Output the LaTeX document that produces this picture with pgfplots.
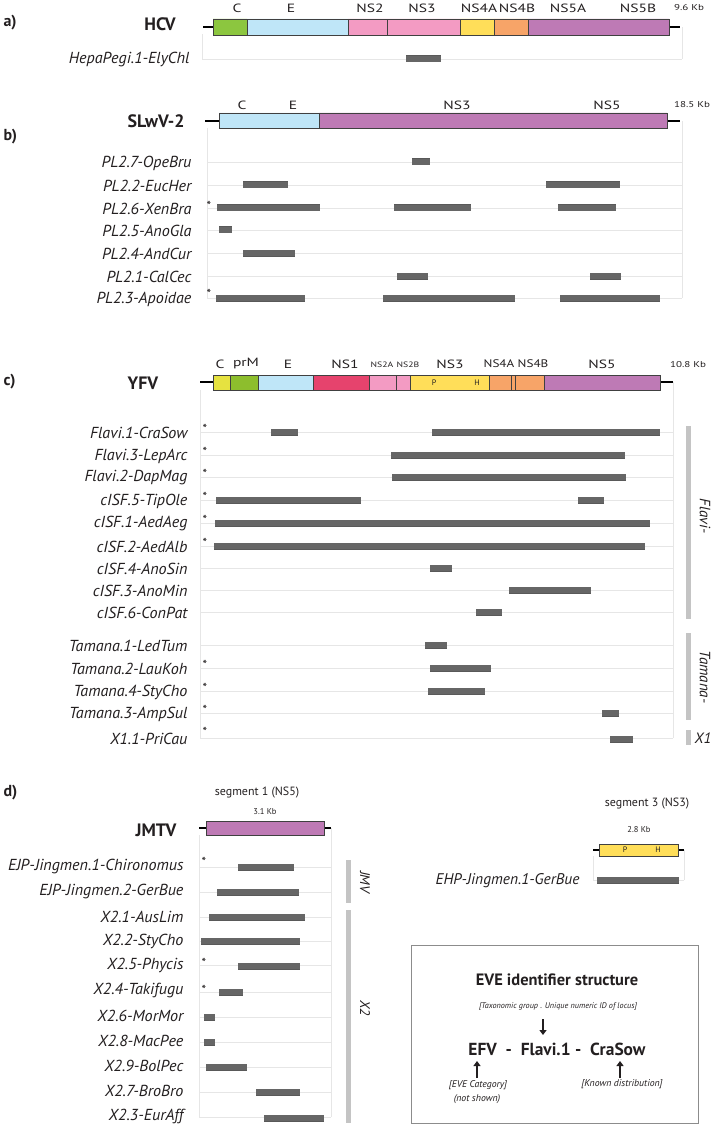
\documentclass[border=0pt]{standalone}
\usepackage{pgfplots}
\pgfplotsset{compat=1.18}
\usepackage{fontspec}
\setmainfont{PT Sans}
\usetikzlibrary{arrows.meta}
\definecolor{cGreen}{HTML}{8CC63F}
\definecolor{cBlue}{HTML}{BFE6F8}
\definecolor{cPink}{HTML}{F39BC3}
\definecolor{cYel}{HTML}{FFDE59}
\definecolor{cOra}{HTML}{F7A468}
\definecolor{cPur}{HTML}{BE7AB5}
\definecolor{cRed}{HTML}{E6436D}
\definecolor{cLime}{HTML}{E6E240}
\definecolor{cPrm}{HTML}{8DBE2D}
\definecolor{barfill}{HTML}{666666}
\definecolor{rowgray}{HTML}{E6E6E6}
\definecolor{brk}{HTML}{C4C4C4}
\definecolor{txt}{HTML}{231F20}
\newcommand{\seg}[5]{\addplot[fill=#5, draw=black!75, line width=0.6bp] coordinates {(#1,#3) (#2,#3) (#2,#4) (#1,#4) (#1,#3)};}
\newcommand{\ebar}[3]{\addplot[draw=black!65, line width=0.5bp, double=barfill, double distance=6bp] coordinates {(#1,#3) (#2,#3)};}
\newcommand{\rowln}[3]{\addplot[draw=rowgray, line width=0.9bp] coordinates {(#1,#3) (#2,#3)};}
\newcommand{\vln}[3]{\addplot[draw=rowgray, line width=0.9bp] coordinates {(#1,#2) (#1,#3)};}
\newcommand{\gline}[3]{\addplot[draw=black, line width=2.6bp] coordinates {(#1,#3) (#2,#3)};}
\newcommand{\grpbar}[3]{\addplot[draw=brk, line width=5bp] coordinates {(#1,#2) (#1,#3)};}
\newcommand{\lab}[3]{\node[anchor=east, xscale=1.01, text=txt, font=\itshape\fontsize{16}{18}\selectfont] at (#1,#2) {#3};}
\newcommand{\astk}[2]{\node[text=txt, font=\fontsize{13}{14}\selectfont] at (#1,#2) {*};}
\newcommand{\slab}[3]{\node[xscale=1.3, text=txt, font=\fontsize{12}{14}\selectfont] at (#1,#2) {#3};}
\newcommand{\mlab}[3]{\node[xscale=1.2, text=txt, font=\fontsize{11}{13}\selectfont] at (#1,#2) {#3};}
\newcommand{\smlab}[3]{\node[xscale=1.3, text=txt, font=\fontsize{8.5}{10}\selectfont] at (#1,#2) {#3};}
\newcommand{\xslab}[3]{\node[xscale=1.25, text=txt, font=\fontsize{7.8}{9}\selectfont] at (#1,#2) {#3};}
\newcommand{\tinylab}[3]{\node[text=txt, font=\fontsize{8.5}{10}\selectfont] at (#1,#2) {#3};}
\newcommand{\panel}[3]{\node[anchor=west, text=txt, font=\bfseries\fontsize{16}{18}\selectfont] at (#1,#2) {#3};}
\newcommand{\vname}[3]{\node[text=txt, font=\bfseries\fontsize{18}{20}\selectfont] at (#1,#2) {#3};}
\begin{document}
\begin{tikzpicture}
\begin{axis}[scale only axis, width=713bp, height=1125bp,
  xmin=0, xmax=713, ymin=0, ymax=1125, y dir=reverse,
  hide axis, clip=false]
% ================= panel a =================
\panel{0}{23}{a)}
\vname{160}{24}{HCV}
\vln{202}{34}{59}\vln{682}{27}{59}
\rowln{202}{682}{59}
\gline{203}{680}{27}
\seg{213}{247}{19}{35}{cGreen}
\seg{247}{348}{19}{35}{cBlue}
\seg{348}{387}{19}{35}{cPink}
\seg{387}{460}{19}{35}{cPink}
\seg{460}{494}{19}{35}{cYel}
\seg{494}{528}{19}{35}{cOra}
\seg{528}{669}{19}{35}{cPur}
\slab{237}{8}{C}\slab{291}{8}{E}\slab{370}{8}{NS2}\slab{422}{8}{NS3}
\slab{479}{8}{NS4A}\slab{517}{8}{NS4B}\slab{568}{8}{NS5A}\slab{638}{8}{NS5B}
\smlab{689}{8}{9.6 Kb}
\lab{193}{60}{HepaPegi.1-ElyChl}
\ebar{406}{441}{59}
% ================= panel b =================
\panel{0}{137}{b)}
\vname{156}{121}{SLwV-2}
\vln{207}{128}{298}\vln{682}{121}{298}
\rowln{207}{682}{162}\rowln{207}{682}{185}\rowln{207}{682}{208}
\rowln{207}{682}{230}\rowln{207}{682}{253}\rowln{207}{682}{276}\rowln{207}{682}{298}
\gline{205}{680}{121}
\seg{219}{319}{113}{128}{cBlue}
\seg{319}{667}{113}{128}{cPur}
\slab{242}{105}{C}\slab{293}{105}{E}\slab{457}{105}{NS3}\slab{607}{105}{NS5}
\smlab{692}{105}{18.5 Kb}
\lab{195}{163}{PL2.7-OpeBru}
\lab{195}{186}{PL2.2-EucHer}
\lab{195}{209}{PL2.6-XenBra}
\lab{195}{231}{PL2.5-AnoGla}
\lab{195}{254}{PL2.4-AndCur}
\lab{195}{277}{PL2.1-CalCec}
\lab{195}{299}{PL2.3-Apoidae}
\astk{209}{206}\astk{209}{294}
\ebar{412}{430}{162}
\ebar{243}{288}{185}\ebar{546}{620}{185}
\ebar{217}{320}{208}\ebar{394}{471}{208}\ebar{558}{616}{208}
\ebar{219}{232}{230}
\ebar{243}{295}{253}
\ebar{397}{428}{276}\ebar{590}{621}{276}
\ebar{216}{305}{298}\ebar{383}{515}{298}\ebar{560}{660}{298}
% ================= panel c =================
\panel{0}{382}{c)}
\vname{143}{383}{YFV}
\vln{200}{390}{738}\vln{673}{382}{738}
\rowln{200}{673}{432}\rowln{200}{673}{455}\rowln{200}{673}{477}
\rowln{200}{673}{500}\rowln{200}{673}{523}\rowln{200}{673}{546}
\rowln{200}{673}{568}\rowln{200}{673}{590}\rowln{200}{673}{612}
\rowln{200}{673}{645}\rowln{200}{673}{668}\rowln{200}{673}{691}
\rowln{200}{673}{713}\rowln{200}{673}{738}
\gline{200}{673}{382}
\seg{213}{230}{375}{390}{cLime}
\seg{230}{258}{375}{390}{cPrm}
\seg{258}{313}{375}{390}{cBlue}
\seg{313}{369}{375}{390}{cRed}
\seg{369}{396}{375}{390}{cPink}
\seg{396}{410}{375}{390}{cPink}
\seg{410}{489}{375}{390}{cYel}
\seg{489}{511}{375}{390}{cOra}
\seg{511}{515}{375}{390}{cOra}
\seg{515}{544}{375}{390}{cOra}
\seg{544}{660}{375}{390}{cPur}
\slab{220}{364}{C}\slab{246}{364}{prM}\slab{288}{364}{E}\slab{345}{364}{NS1}
\xslab{382}{365}{NS2A}\xslab{408}{365}{NS2B}
\slab{450}{364}{NS3}\mlab{499}{364}{NS4A}\mlab{533}{364}{NS4B}\slab{602}{364}{NS5}
\smlab{688}{365}{10.8 Kb}
\node[text=txt, font=\fontsize{8}{9}\selectfont] at (434,383) {P};
\node[text=txt, font=\fontsize{8}{9}\selectfont] at (477,383) {H};
\lab{191}{433}{Flavi.1-CraSow}
\lab{191}{456}{Flavi.3-LepArc}
\lab{191}{478}{Flavi.2-DapMag}
\lab{191}{501}{cISF.5-TipOle}
\lab{191}{524}{cISF.1-AedAeg}
\lab{191}{547}{cISF.2-AedAlb}
\lab{191}{569}{cISF.4-AnoSin}
\lab{191}{591}{cISF.3-AnoMin}
\lab{191}{613}{cISF.6-ConPat}
\lab{191}{646}{Tamana.1-LedTum}
\lab{191}{669}{Tamana.2-LauKoh}
\lab{191}{692}{Tamana.4-StyCho}
\lab{191}{714}{Tamana.3-AmpSul}
\lab{191}{739}{X1.1-PriCau}
\astk{205}{429}\astk{205}{452}\astk{205}{474}\astk{205}{497}\astk{205}{520}\astk{205}{543}
\astk{205}{665}\astk{205}{688}\astk{205}{710}\astk{205}{732}
\ebar{271}{298}{432}\ebar{432}{660}{432}
\ebar{391}{625}{455}
\ebar{392}{626}{477}
\ebar{216}{361}{500}\ebar{578}{604}{500}
\ebar{215}{650}{523}
\ebar{214}{645}{546}
\ebar{430}{452}{568}
\ebar{509}{591}{590}
\ebar{476}{502}{612}
\ebar{425}{447}{645}
\ebar{430}{491}{668}
\ebar{428}{485}{691}
\ebar{602}{619}{713}
\ebar{610}{633}{739}
\grpbar{688.5}{426}{619}
\grpbar{688.5}{633}{720}
\grpbar{688.5}{730}{745}
\node[rotate=-90, text=txt, font=\itshape\fontsize{15}{17}\selectfont] at (705,516) {Flavi-};
\node[rotate=-90, text=txt, font=\itshape\fontsize{15}{17}\selectfont] at (705,677) {Tamana-};
\node[text=txt, font=\itshape\fontsize{15}{17}\selectfont] at (703,738) {X1};
% ================= panel d =================
\panel{0}{793}{d)}
\node[text=txt, font=\fontsize{12}{14}\selectfont] at (257,793) {segment 1 (NS5)};
\tinylab{265}{812}{3.1 Kb}
\vname{156}{830}{JMTV}
\vln{199}{835}{1117}\vln{331}{828}{1117}
\rowln{199}{331}{867}\rowln{199}{331}{892}\rowln{199}{331}{917}\rowln{199}{331}{941}
\rowln{199}{331}{965}\rowln{199}{331}{992}\rowln{199}{331}{1017}\rowln{199}{331}{1042}
\rowln{199}{331}{1067}\rowln{199}{331}{1092}\rowln{199}{331}{1117}
\gline{199}{331}{828}
\seg{206}{324}{821}{835}{cPur}
\lab{187}{867}{EJP-Jingmen.1-Chironomus}
\lab{187}{892}{EJP-Jingmen.2-GerBue}
\lab{187}{917}{X2.1-AusLim}
\lab{187}{941}{X2.2-StyCho}
\lab{187}{965}{X2.5-Phycis}
\lab{187}{991}{X2.4-Takifugu}
\lab{187}{1016}{X2.6-MorMor}
\lab{187}{1041}{X2.8-MacPee}
\lab{187}{1066}{X2.9-BolPec}
\lab{187}{1091}{X2.7-BroBro}
\lab{187}{1116}{X2.3-EurAff}
\astk{204}{862}\astk{204}{963}\astk{204}{990}
\ebar{238}{294}{867}
\ebar{217}{299}{892}
\ebar{209}{305}{917}
\ebar{201}{300}{941}
\ebar{238}{300}{966}
\ebar{219}{243}{992}
\ebar{204}{215}{1017}
\ebar{204}{215}{1042}
\ebar{206}{247}{1067}
\ebar{256}{300}{1092}
\ebar{264}{324}{1118}
\grpbar{348.5}{860}{903}
\grpbar{348.5}{910}{1123}
\node[rotate=-90, text=txt, font=\itshape\fontsize{14}{16}\selectfont] at (365,882) {JMV};
\node[rotate=-90, text=txt, font=\itshape\fontsize{14}{16}\selectfont] at (365,1008) {X2};
% segment 3
\node[text=txt, font=\fontsize{12}{14}\selectfont] at (647,804) {segment 3 (NS3)};
\tinylab{639}{830}{2.8 Kb}
\vln{593}{856}{880}\vln{684}{850}{880}
\rowln{593}{684}{880}
\gline{593}{684}{850}
\seg{599}{678}{844}{856}{cYel}
\node[text=txt, font=\fontsize{8}{9}\selectfont] at (625,850) {P};
\node[text=txt, font=\fontsize{8}{9}\selectfont] at (658,850) {H};
\node[anchor=east, text=txt, font=\itshape\fontsize{15.5}{18}\selectfont] at (583,881) {EHP-Jingmen.1-GerBue};
\ebar{597}{679}{880}
% EVE box
\draw[black!45, line width=0.8bp] (411,945) rectangle (698,1123);
\node[text=txt, font=\bfseries\fontsize{16.5}{18}\selectfont] at (557,980) {EVE identifier structure};
\node[text=txt, font=\itshape\fontsize{8.2}{9}\selectfont] at (558,1007) {[Taxonomic group . Unique numeric ID of locus]};
\draw[txt, line width=2bp, -{Triangle[length=5bp,width=7bp]}] (543,1019) -- (543,1035);
\node[text=txt, font=\bfseries\fontsize{17.5}{19}\selectfont] at (557,1049) {EFV\ \ -\ \ Flavi.1\ -\ \ CraSow};
\draw[txt, line width=2bp, -{Triangle[length=5bp,width=7bp]}] (477,1078) -- (477,1061);
\draw[txt, line width=2bp, -{Triangle[length=5bp,width=7bp]}] (620,1078) -- (620,1061);
\node[text=txt, font=\itshape\fontsize{9.8}{11}\selectfont] at (478,1085) {[EVE Category]};
\node[text=txt, font=\itshape\fontsize{9.8}{11}\selectfont] at (477,1099) {(not shown)};
\node[text=txt, font=\itshape\fontsize{9.8}{11}\selectfont] at (622,1084) {[Known distribution]};
\end{axis}
\pgfresetboundingbox
\useasboundingbox (current axis.south west) rectangle (current axis.north east);
\end{tikzpicture}
\end{document}
